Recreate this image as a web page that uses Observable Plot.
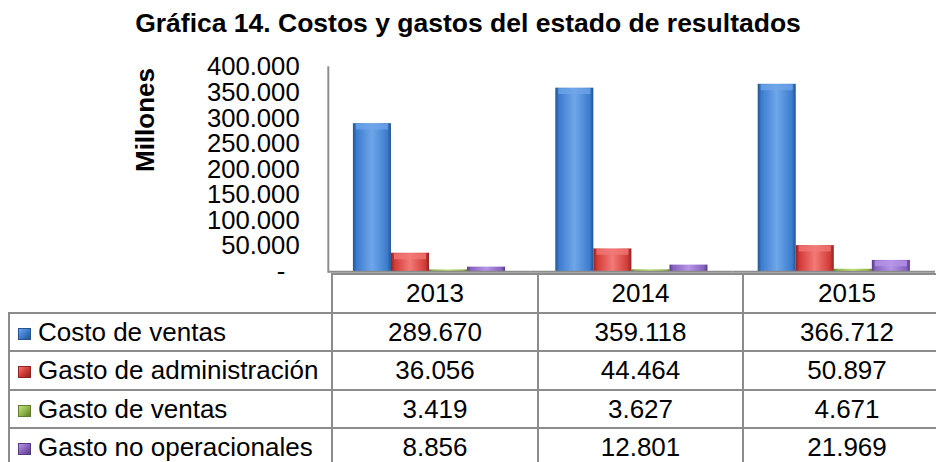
<!DOCTYPE html>
<html>
<head>
<meta charset="utf-8">
<script src="https://cdn.jsdelivr.net/npm/d3@7"></script>
<script src="https://cdn.jsdelivr.net/npm/@observablehq/plot@0.6"></script>
<style>
  html, body { margin: 0; padding: 0; background: #fff; }
  body { width: 936px; height: 462px; overflow: hidden; position: relative;
         font-family: "Liberation Sans", Arial, sans-serif; color: #000; }
  #title { position: absolute; top: 10px; left: 0; width: 936px; text-align: center;
           font-weight: bold; font-size: 26.5px; line-height: 26px; white-space: nowrap; }
  #ylabel { position: absolute; left: 85px; top: 107px; width: 120px; height: 26px;
            line-height: 26px; text-align: center; font-weight: bold; font-size: 26px;
            transform: rotate(-90deg); }
  #chart { position: absolute; top: 50px; left: 0; }
  table { position: absolute; left: 8px; top: 273px; border-collapse: collapse;
          table-layout: fixed; width: 942px; font-size: 26px; }
  td { border: 2px solid #8c8c8c; padding: 0; text-align: center; vertical-align: middle;
       line-height: 26px; white-space: nowrap; }
  tr { height: 38.5px; }
  td.blank { border-left: none; border-top: none; }
  td.legend { text-align: left; padding-left: 8px; }
  .sw { display: inline-block; width: 13px; height: 12px; margin-right: 7px; vertical-align: 1px;
        box-sizing: border-box; }
</style>
</head>
<body>
<div id="title">Gráfica 14. Costos y gastos del estado de resultados</div>
<div id="ylabel">Millones</div>
<div id="chart"></div>
<table id="tbl"></table>
<script>
// ---- data ----
const years = ["2013", "2014", "2015"];
const series = ["Costo de ventas", "Gasto de administración", "Gasto de ventas", "Gasto no operacionales"];
const costoVentas = [289670, 359118, 366712];
const gastoAdministracion = [36056, 44464, 50897];
const gastoVentas = [3419, 3627, 4671];
const gastoNoOperacionales = [8856, 12801, 21969];
const yTicks = [0, 50000, 100000, 150000, 200000, 250000, 300000, 350000, 400000];

// ---- styles ----
const baseColors = ["#3c7cce", "#d23b37", "#93b847", "#8763bf"];
const darkColors = ["#24558f", "#8f2422", "#5f7d2a", "#573c85"];
const lightColors = ["#6fa6ea", "#f27a77", "#c2e07d", "#b596e8"];
const gradIds = ["gBlue", "gRed", "gGreen", "gPurple"];

const valuesBySeries = [costoVentas, gastoAdministracion, gastoVentas, gastoNoOperacionales];
const rows = [];
series.forEach((s, i) => years.forEach((y, j) => rows.push({year: y, series: s, value: valuesBySeries[i][j]})));

const locale = d3.formatLocale({decimal: ",", thousands: ".", grouping: [3], currency: ["$", ""]});
const fmt = locale.format(",d");
const tickFmt = d => d === 0 ? "-\u00a0\u00a0" : fmt(d);

const gray = "#8c8c8c";
const chart = Plot.plot({
  width: 948,
  height: 226,
  marginTop: 17,
  marginBottom: 2,
  marginLeft: 331,
  marginRight: 0,
  style: {fontFamily: "'Liberation Sans', Arial, sans-serif", fontSize: "26px", color: "#000", background: "transparent", overflow: "visible"},
  fx: {domain: years, padding: 0, axis: null},
  x: {domain: series, paddingInner: 0, paddingOuter: 0.66, round: false, axis: null},
  y: {domain: [0, 400000], axis: null},
  color: {domain: series, range: gradIds.map(id => `url(#${id})`)},
  marks: [
    Plot.axisY(yTicks, {tickSize: 0, tickPadding: 29, tickFormat: tickFmt, fontSize: 26, label: null, fill: "#000"}),
    Plot.barY(rows, {fx: "year", x: "series", y: "value", fill: "series"}),
    // bevelled top of each bar
    Plot.tickY(rows.filter(d => d.value > 15000), {fx: "year", x: "series", y: "value",
      stroke: d => lightColors[series.indexOf(d.series)], strokeWidth: 6, dy: 3, insetLeft: 3, insetRight: 3, strokeOpacity: 0.75}),
    Plot.ruleY([0], {stroke: gray, strokeWidth: 2}),
    Plot.frame({anchor: "left", facetAnchor: "left", stroke: gray, strokeWidth: 2})
  ]
});

// gradient definitions for the bevelled bar look
const ns = "http://www.w3.org/2000/svg";
const defs = document.createElementNS(ns, "defs");
gradIds.forEach((id, i) => {
  const g = document.createElementNS(ns, "linearGradient");
  g.setAttribute("id", id);
  g.setAttribute("x1", "0"); g.setAttribute("x2", "1"); g.setAttribute("y1", "0"); g.setAttribute("y2", "0");
  [[0, darkColors[i]], [0.1, baseColors[i]], [0.5, lightColors[i]], [0.9, baseColors[i]], [1, darkColors[i]]].forEach(([o, c]) => {
    const st = document.createElementNS(ns, "stop");
    st.setAttribute("offset", o);
    st.setAttribute("stop-color", c);
    g.appendChild(st);
  });
  defs.appendChild(g);
});
chart.insertBefore(defs, chart.firstChild);
document.getElementById("chart").appendChild(chart);

// ---- data table ----
const tbl = document.getElementById("tbl");
const colgroup = document.createElement("colgroup");
[323, 206, 205, 208].forEach(w => { const c = document.createElement("col"); c.style.width = w + "px"; colgroup.appendChild(c); });
tbl.appendChild(colgroup);
const head = document.createElement("tr");
const blank = document.createElement("td"); blank.className = "blank"; head.appendChild(blank);
years.forEach(y => { const td = document.createElement("td"); td.textContent = y; head.appendChild(td); });
tbl.appendChild(head);
series.forEach((s, i) => {
  const tr = document.createElement("tr");
  const lt = document.createElement("td"); lt.className = "legend";
  const sw = document.createElement("span"); sw.className = "sw";
  sw.style.background = `linear-gradient(135deg, ${lightColors[i]} 0%, ${baseColors[i]} 50%, ${darkColors[i]} 100%)`;
  sw.style.border = `1px solid ${darkColors[i]}`;
  lt.appendChild(sw); lt.appendChild(document.createTextNode(s));
  tr.appendChild(lt);
  valuesBySeries[i].forEach(v => { const td = document.createElement("td"); td.textContent = fmt(v); tr.appendChild(td); });
  tbl.appendChild(tr);
});
</script>
</body>
</html>
